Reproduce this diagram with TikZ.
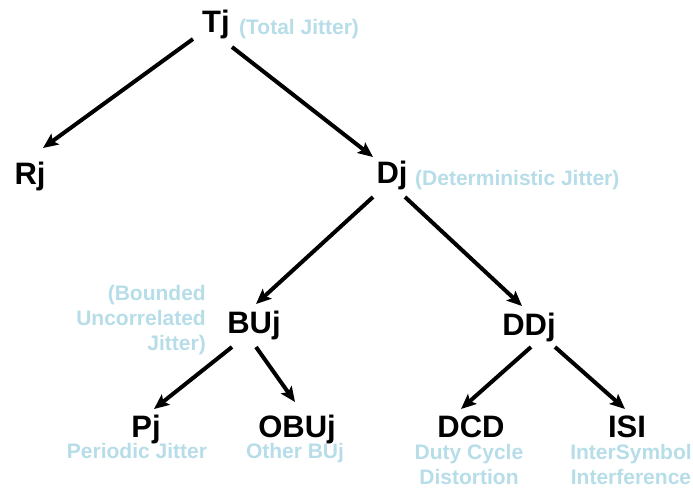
\documentclass[tikz,border=0pt]{standalone}
\usepackage{fontspec}
\setmainfont{Liberation Sans}
\usetikzlibrary{arrows.meta,calc}
\definecolor{lblue}{RGB}{182,221,232}
\tikzset{
  main/.style={font=\fontsize{31}{33}\selectfont\bfseries, inner sep=0pt, anchor=base},
  note/.style={font=\fontsize{21}{25}\selectfont\bfseries, text=lblue, inner sep=0pt},
  arr/.style={line width=4pt, -{Stealth[length=15pt,width=13pt,inset=3pt]}}
}
\begin{document}
\begin{tikzpicture}[x=1pt,y=-1pt]
\useasboundingbox (0,0) rectangle (693,487);
% main nodes
\node[main] (Tj) at (216,33) {Tj};
\node[main] (Rj) at (30,184) {Rj};
\node[main] (Dj) at (392,183) {Dj};
\node[main] (BUj) at (254,333) {BUj};
\node[main] (DDj) at (529,335) {DDj};
\node[main] (Pj) at (146,437) {Pj};
\node[main] (OBUj) at (297,437) {OBUj};
\node[main] (DCD) at (471,437) {DCD};
\node[main] (ISI) at (627,437) {ISI};
% notes
\node[note, anchor=base west] (nTj) at (239,35) {(Total Jitter)};
\node[note, anchor=base west] (nDj) at (415,185) {(Deterministic Jitter)};
\node[note, anchor=base east, align=right] (nBUj) at (206,350) {(Bounded\\Uncorrelated\\Jitter)};
\node[note, anchor=base] (nPj) at (137,458) {Periodic Jitter};
\node[note, anchor=base] (nOBUj) at (295,458) {Other BUj};
\node[note, anchor=base, align=center] (nDCD) at (469,484) {Duty Cycle\\Distortion};
\node[note, anchor=base, align=center] (nISI) at (631,484) {InterSymbol\\Interference};
% connectors
\draw[arr] ($(Tj.base)+(-23,6)$) -- ($(Rj.base)+(13,-36)$);
\draw[arr] ($(Tj.base)+(16,14)$) -- ($(Dj.base)+(-19,-26)$);
\draw[arr] ($(Dj.base)+(-19,14)$) -- ($(BUj.base)+(2,-29)$);
\draw[arr] ($(Dj.base)+(13,14)$) -- ($(DDj.base)+(-7,-29)$);
\draw[arr] ($(BUj.base)+(-22,14)$) -- ($(Pj.base)+(8,-28)$);
\draw[arr] ($(BUj.base)+(2,14)$) -- ($(OBUj.base)+(-2,-35)$);
\draw[arr] ($(DDj.base)+(2,12)$) -- ($(DCD.base)+(-10,-28)$);
\draw[arr] ($(DDj.base)+(26,12)$) -- ($(ISI.base)+(-2,-28)$);
\end{tikzpicture}
\end{document}
